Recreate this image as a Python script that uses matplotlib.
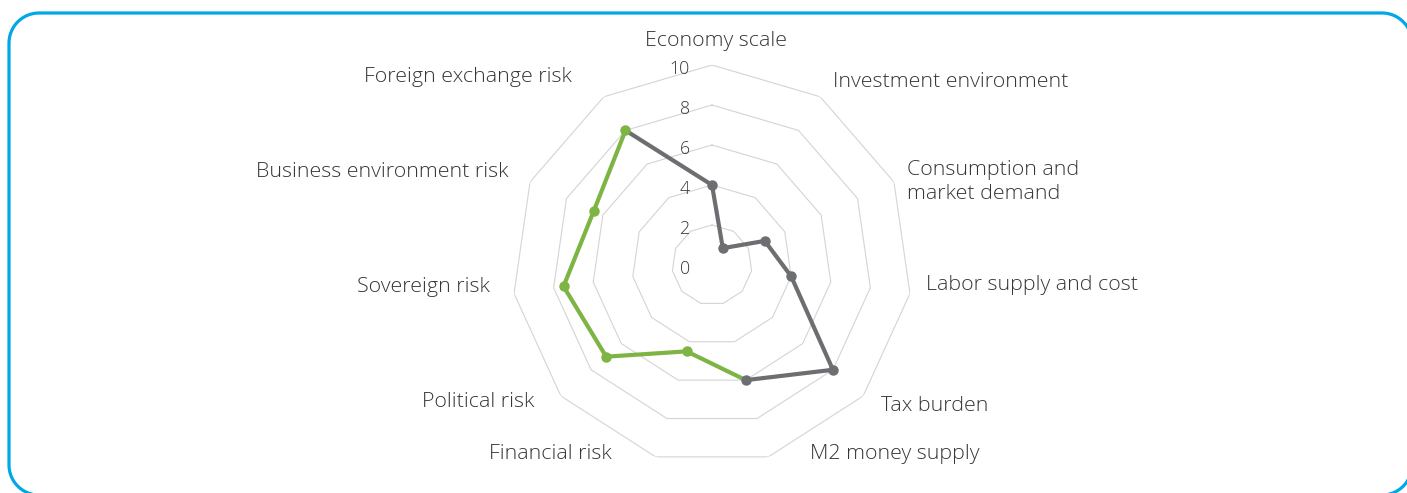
import matplotlib.pyplot as plt
import numpy as np
from matplotlib.lines import Line2D

plt.rcParams["font.family"] = ["Open Sans", "DejaVu Sans"]

categories = [
    "Economy scale",
    "Investment environment",
    "Consumption and\nmarket demand",
    "Labor supply and cost",
    "Tax burden",
    "M2 money supply",
    "Financial risk",
    "Political risk",
    "Sovereign risk",
    "Business environment risk",
    "Foreign exchange risk",
]
scores = [4.0, 1.0, 2.9, 4.0, 8.0, 6.0, 4.5, 7.0, 7.5, 6.5, 8.0]
# which categories belong to each series (gray closes back from the last axis)
gray_idx = [10, 0, 1, 2, 3, 4, 5]
green_idx = [5, 6, 7, 8, 9, 10]
ring_levels = [2, 4, 6, 8, 10]
tick_labels = ["0", "2", "4", "6", "8", "10"]

# label placement relative to the outer vertex: (ha, dx px, dy px up)
label_pos = [
    ("center", 4, 24),
    ("left", 13, 15),
    ("left", 13, 0),
    ("left", 16, 8),
    ("left", 18, -10),
    ("left", 42, 3),
    ("right", -44, 3),
    ("right", -26, -6),
    ("right", -24, 6),
    ("right", -22, 10),
    ("right", -32, 20),
]

GRAY = "#6D6E71"
GREEN = "#7DB443"
TEXT = "#363636"

W, H = 1407, 493
fig = plt.figure(figsize=(W / 100, H / 100), dpi=100)

cx, cy, R = 712, 493 - 265, 200
ax = fig.add_axes([(cx - R) / W, (cy - R) / H, 2 * R / W, 2 * R / H], projection="polar")
ax.set_theta_zero_location("N")
ax.set_theta_direction(-1)
ax.set_ylim(0, 10)
ax.set_xticks([])
ax.set_yticks([])
ax.grid(False)
ax.spines["polar"].set_visible(False)
ax.patch.set_alpha(0)

n = len(categories)
theta = np.arange(n) * 2 * np.pi / n
scores = np.array(scores)

# polygon grid
closed = np.append(theta, theta[0])
for lv in ring_levels:
    ax.plot(closed, [lv] * (n + 1), color="#D4D4D4", lw=0.8, zorder=1)

# value ticks
for t in tick_labels:
    ax.annotate(t, xy=(0, float(t)), xytext=(-22, -4), textcoords="offset pixels",
                ha="right", va="center", fontsize=12.8, color=TEXT, fontweight="light")

# series
ax.plot(theta[gray_idx], scores[gray_idx], color=GRAY, lw=3, zorder=3,
        solid_capstyle="round", solid_joinstyle="round")
ax.plot(theta[green_idx], scores[green_idx], color=GREEN, lw=3, zorder=2,
        solid_joinstyle="round")
ax.plot(theta[green_idx[1:]], scores[green_idx[1:]], "o", color=GREEN, ms=6.5, zorder=4)
ax.plot(theta[gray_idx[1:]], scores[gray_idx[1:]], "o", color=GRAY, ms=6.5, zorder=5)

# category labels
for i, lab in enumerate(categories):
    ha, dx, dy = label_pos[i]
    ax.annotate(lab, xy=(theta[i], 10), xytext=(dx, dy), textcoords="offset pixels",
                ha=ha, va="center", fontsize=15.4, color=TEXT, linespacing=1.28,
                fontweight="light", annotation_clip=False)

# rounded frame, built in pixels (origin top-left) then mapped to figure fraction
x0, x1, y0, y1, rr = 9, 1412, 13, 495, 30
a = np.linspace(0, np.pi / 2, 20)
px = np.concatenate([x1 - rr + rr * np.cos(a), x0 + rr - rr * np.sin(a),
                     x0 + rr - rr * np.cos(a), x1 - rr + rr * np.sin(a)])
py = np.concatenate([y0 + rr - rr * np.sin(a), y0 + rr - rr * np.cos(a),
                     y1 - rr + rr * np.sin(a), y1 - rr + rr * np.cos(a)])
px = np.append(px, px[0])
py = np.append(py, py[0])
fig.add_artist(Line2D(px / W, 1 - py / H, transform=fig.transFigure,
                      color="#00A8E6", lw=2.3))

fig.savefig("out.png", dpi=100, facecolor="white")
